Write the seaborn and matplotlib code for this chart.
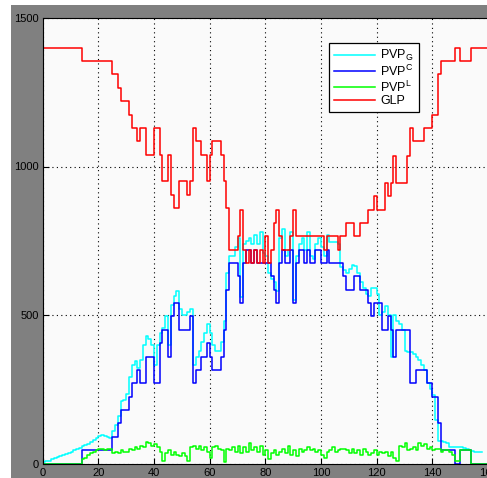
import numpy as np
import pandas as pd
import matplotlib
matplotlib.use("Agg")
import matplotlib.pyplot as plt
import matplotlib.patches as mpatches
import seaborn as sns

# values for x = 0 .. 159, drawn as stairs up to x = 160
glp = ([1400] * 14 + [1355] * 11 + [1310] * 2 + [1265] + [1220] * 3 + [1175]
       + [1130] * 2 + [1085] + [1130] * 2 + [1040] * 3 + [1130] * 2 + [1040]
       + [950] * 2 + [1040] + [905] + [860] * 2 + [950] * 3 + [905] + [950]
       + [1130] + [1085] * 2 + [1040] * 2 + [950] + [1040] + [1085] * 3
       + [1040] + [950] + [860] + [720] * 3 + [765] + [855] + [720] + [675]
       + [720] + [675] + [720] + [675] + [720] + [675] + [765] + [675] + [720]
       + [810] + [855] + [765] + [720] * 3 + [765] + [855] + [765] * 10
       + [720] + [765] * 4 + [720] + [765] * 2 + [810] * 3 + [765] * 2
       + [810] * 3 + [855] * 2 + [900] + [855] * 3 + [945] + [900] + [945]
       + [1035] + [945] * 4 + [1035] + [1130] + [1085] * 4 + [1130] * 3
       + [1175] * 2 + [1310] + [1355] * 5 + [1400] * 2 + [1355] * 4
       + [1400] * 6)

pvp_c = ([0] * 14 + [45] * 11 + [90] * 2 + [135] + [180] * 3 + [225]
         + [270] * 2 + [315] + [270] * 2 + [360] * 3 + [270] * 2 + [405]
         + [450] * 2 + [360] + [495] + [540] * 2 + [450] * 4 + [495] + [270]
         + [315] * 2 + [360] * 2 + [405] + [360] + [315] * 3 + [360] + [450]
         + [585] + [675] * 3 + [630] + [540] + [675, 720, 720, 675, 720, 675,
                                               675, 675, 675, 675, 630, 585,
                                               540, 675, 720, 675, 675, 720,
                                               540, 675, 720, 720, 675, 720,
                                               675, 675, 720, 720, 675, 675,
                                               720, 675, 675, 675, 675, 675]
         + [630] + [585] * 3 + [630] * 2 + [585] * 3 + [540] + [495]
         + [540] * 3 + [450] * 2 + [495] + [450] + [360] + [450] * 5
         + [270] * 2 + [315] * 4 + [270] * 2 + [225] * 2 + [135] + [45] * 5
         + [0] * 2 + [45] * 4 + [0] * 6)

pvp_g = [5, 8, 10, 15, 18, 22, 25, 30, 33, 37, 40, 45, 48, 52, 58, 62, 67, 72,
         80, 85, 92, 95, 92, 88, 85, 110, 130, 160, 210, 215, 235, 290, 330,
         345, 320, 350, 400, 430, 420, 400, 330, 400, 440, 455, 495, 400, 535,
         565, 580, 520, 500, 500, 510, 520, 330, 360, 380, 410, 440, 470, 440,
         400, 380, 380, 410, 480, 640, 700, 700, 730, 760, 560, 740, 750, 760,
         740, 770, 740, 780, 710, 700, 640, 620, 610, 580, 760, 790, 700, 720,
         780, 550, 700, 740, 760, 720, 780, 700, 690, 740, 760, 730, 700, 770,
         745, 745, 745, 740, 660, 650, 640, 655, 670, 665, 640, 610, 590, 570,
         565, 590, 590, 570, 500, 510, 530, 500, 360, 500, 480, 470, 450, 380,
         375, 375, 370, 360, 350, 330, 315, 270, 250, 230, 145, 75, 75, 72, 70,
         57, 57, 57, 57, 55, 52, 50, 45, 42, 40, 38, 38]

pvp_l = ([0] * 14 + [15, 20, 30, 35, 38, 45, 48, 50, 45, 50, 48, 35, 40, 35,
                     45, 38, 40, 50, 45, 55, 50, 60, 55, 72, 70, 60, 65, 55,
                     40, 10, 35, 45, 30, 40, 30, 25, 35, 25, 10, 55, 60, 50,
                     60, 45, 55, 40, 20, 55, 60, 50, 45, 5, 50, 45, 55, 40,
                     60, 35, 55, 40, 70, 45, 55, 40, 60, 30, 45, 15, 35, 45,
                     30, 40, 50, 35, 60, 30, 45, 25, 50, 40, 45, 55, 45, 50,
                     40, 45, 30, 20, 40, 45, 55, 40, 45, 50, 50, 45, 35, 50,
                     35, 45, 30, 50, 40, 30, 35, 45, 30, 40, 35, 40, 25, 40,
                     20, 10, 60, 55, 70, 45, 50, 55, 45, 70, 60, 65, 50, 55,
                     45, 50, 50, 40, 45, 45, 40, 30, 10, 10, 45, 45, 45, 45]
         + [0] * 6)

labels = [r'PVP$_\mathrm{G}$', r'PVP$^\mathrm{C}$', r'PVP$^\mathrm{L}$', 'GLP']
colors = ['#00ffff', '#0000ff', '#00ff00', '#ff0000']
series = [pvp_g, pvp_c, pvp_l, glp]

plt.rcParams['font.family'] = ['Liberation Sans', 'DejaVu Sans']
plt.rcParams['mathtext.fontset'] = 'custom'
plt.rcParams['mathtext.rm'] = 'Liberation Sans'

fig = plt.figure(figsize=(4.87, 4.78), dpi=100, facecolor='white')
fig.patches.append(mpatches.Rectangle((11 / 487, 0), 1, 473 / 478,
                                      transform=fig.transFigure,
                                      facecolor='#808080', edgecolor='none',
                                      zorder=-1))
ax = fig.add_axes([42.7 / 487, 14.5 / 478, 445.3 / 487, 445.5 / 478])
ax.set_facecolor('#fafafa')

for vals, lab, col in zip(series, labels, colors):
    x = np.arange(len(vals) + 1)
    y = list(vals) + [vals[-1]]
    df = pd.DataFrame({'x': x, 'y': y})
    sns.lineplot(data=df, x='x', y='y', ax=ax, color=col, label=lab,
                 drawstyle='steps-post', estimator=None, linewidth=1.1)

ax.set_xlim(0, 160)
ax.set_ylim(0, 1500)
ax.set_xticks(np.arange(0, 161, 20))
ax.set_yticks([0, 500, 1000, 1500])
ax.set_xlabel('')
ax.set_ylabel('')
ax.tick_params(direction='in', length=4, labelsize=8, colors='black', pad=3)
ax.grid(True, linestyle=(0, (1, 3)), color='black', linewidth=0.8)
for s in ax.spines.values():
    s.set_color('black')
    s.set_linewidth(0.8)

leg = ax.legend(loc='upper left', bbox_to_anchor=(0.643, 0.944),
                borderaxespad=0, fontsize=9, handlelength=3.3,
                handletextpad=0.4, labelspacing=0.05, fancybox=False,
                framealpha=1, edgecolor='black', borderpad=0.4)
leg.get_frame().set_linewidth(0.9)

fig.savefig('out.png', dpi=100, facecolor=fig.get_facecolor())
